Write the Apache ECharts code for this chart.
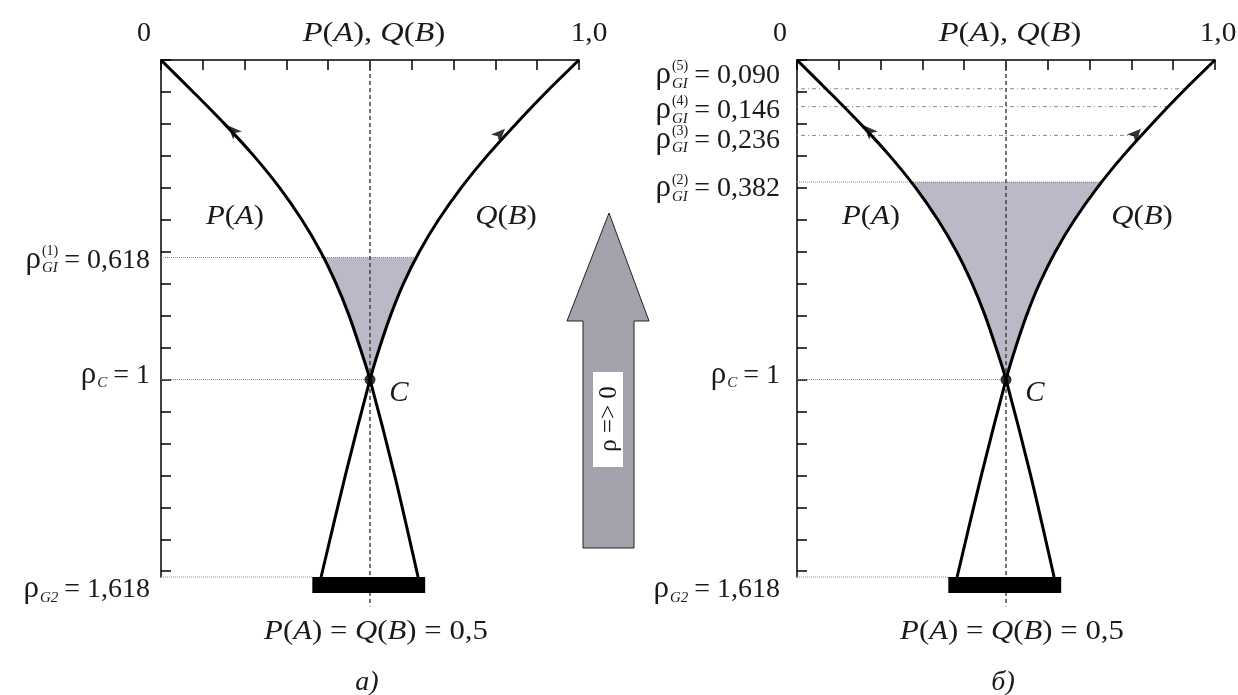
<!DOCTYPE html>
<html>
<head>
<meta charset="utf-8">
<script src="https://cdn.jsdelivr.net/npm/echarts@6/dist/echarts.min.js"></script>
<style>
	html, body { margin: 0; padding: 0; background: #fff; }
	#chart { width: 1238px; height: 695px; }
</style>
</head>
<body>
<div id="chart"></div>
<script>
	// curve readings, rho from top (0) to bottom (1.618)
	var rhoPts = [0, 0.1, 0.2, 0.3, 0.4, 0.5, 0.6, 0.7, 0.8, 0.9, 1.0, 1.3, 1.618]
	var pVals = [0, 0.077, 0.152, 0.222, 0.284, 0.337, 0.382, 0.419, 0.45, 0.476, 0.5, 0.559, 0.615]
	var qVals = [1, 0.922, 0.849, 0.78, 0.718, 0.664, 0.618, 0.58, 0.549, 0.523, 0.5, 0.441, 0.383]

	// upper edge of the shaded zone: [rho, P, Q]
	var shadeTopA = [0.618, 0.388, 0.611]
	var shadeTopB = [0.382, 0.273, 0.728]

	// horizontal guide lines (level, where the line stops on the P/Q axis)
	var levelsA = [0.618, 1, 1.618]
	var levelEndsA = [0.611, 0.5, 0.362]
	var levelsB = [0.09, 0.146, 0.236, 0.382, 1, 1.618]
	var levelEndsB = [0.93, 0.888, 0.823, 0.728, 0.5, 0.362]

	// marks
	var arrowP = [0.16, 0.205]
	var arrowQ = [0.823, 0.215]
	var crossPt = [0.5, 1]
	var barSpan = [0.362, 0.632]
	var barRho = 1.643
	var midLine = [0, 1.71]
	var rhoTicks = [0, 0.1, 0.2, 0.3, 0.4, 0.5, 0.6, 0.7, 0.8, 0.9, 1, 1.1, 1.2, 1.3, 1.4, 1.5, 1.6]

	// tick labels of the rho axis
	var labRhoA = [0.618, 1, 1.618]
	var labSupA = ['(1)', '', '']
	var labSubA = ['GI', 'C', 'G2']
	var labValA = ['0,618', '1', '1,618']
	var labRhoB = [0.09, 0.146, 0.236, 0.382, 1, 1.618]
	var labSupB = ['(5)', '(4)', '(3)', '(2)', '', '']
	var labSubB = ['GI', 'GI', 'GI', 'GI', 'C', 'G2']
	var labValB = ['0,090', '0,146', '0,236', '0,382', '1', '1,618']
	var topLabels = ['0', 'P(A), Q(B)', '1,0']
	var panelNames = ['а)', 'б)']

	var font = '"Liberation Serif", "Times New Roman", serif'
	var shadeColor = '#b9b9c7'

	function curveData(vals) {
		return rhoPts.map(function (r, i) { return [vals[i], r] })
	}

	function shadePoly(top) {
		var pts = [[top[1], top[0]]]
		for (var i = 0; i < rhoPts.length; i++) {
			if (rhoPts[i] > top[0] && rhoPts[i] <= 1) pts.push([pVals[i], rhoPts[i]])
		}
		for (var j = rhoPts.length - 1; j >= 0; j--) {
			if (rhoPts[j] > top[0] && rhoPts[j] < 1) pts.push([qVals[j], rhoPts[j]])
		}
		pts.push([top[2], top[0]])
		return pts
	}

	function panelSeries(gi, levels, ends, top) {
		var list = []
		var poly = shadePoly(top)
		list.push({
			type: 'custom', xAxisIndex: gi, yAxisIndex: gi, data: [[0.5, 0.8]], silent: true, z: 1,
			renderItem: function (params, api) {
				return {
					type: 'polygon',
					shape: { points: poly.map(function (p) { return api.coord(p) }) },
					style: { fill: shadeColor }
				}
			}
		})
		levels.forEach(function (lv, i) {
			list.push({
				type: 'line', xAxisIndex: gi, yAxisIndex: gi, silent: true, symbol: 'none', z: 2, clip: false,
				lineStyle: { color: '#888', width: 1, type: (gi == 1 && lv < 0.3) ? [1, 3, 4, 3] : 'dotted' },
				data: [[0, lv], [ends[i], lv]]
			})
		})
		list.push({
			type: 'line', xAxisIndex: gi, yAxisIndex: gi, silent: true, symbol: 'none', z: 3, clip: false,
			lineStyle: { color: '#444', width: 1.5, type: [4, 3] },
			data: [[0.5, midLine[0]], [0.5, midLine[1]]]
		})
		list.push({
			type: 'line', xAxisIndex: gi, yAxisIndex: gi, silent: true, symbol: 'none', z: 4, clip: false,
			lineStyle: { color: '#000', width: 16, cap: 'butt' },
			data: [[barSpan[0], barRho], [barSpan[1], barRho]]
		})
		;[pVals, qVals].forEach(function (vals) {
			list.push({
				type: 'line', xAxisIndex: gi, yAxisIndex: gi, silent: true, symbol: 'none', z: 5,
				smooth: 0.3, clip: false,
				lineStyle: { color: '#000', width: 3 },
				data: curveData(vals)
			})
		})
		list.push({
			type: 'scatter', xAxisIndex: gi, yAxisIndex: gi, silent: true, z: 6,
			symbol: 'arrow', symbolSize: [9, 14],
			itemStyle: { color: '#000' },
			data: [
				{ value: arrowP, symbolRotate: 44 },
				{ value: arrowQ, symbolRotate: -44 }
			]
		})
		list.push({
			type: 'scatter', xAxisIndex: gi, yAxisIndex: gi, silent: true, z: 6,
			symbol: 'circle', symbolSize: 11,
			itemStyle: { color: '#000' },
			data: [crossPt]
		})
		return list
	}

	function xAx(gi) {
		return {
			type: 'value', gridIndex: gi, position: 'top', min: 0, max: 1, interval: 0.1,
			axisLine: { onZero: false, lineStyle: { color: '#000', width: 1.5 } },
			axisTick: { inside: true, length: 10, lineStyle: { color: '#000', width: 1.5 } },
			axisLabel: { show: false },
			splitLine: { show: false }
		}
	}

	function yAx(gi) {
		return {
			type: 'value', gridIndex: gi, inverse: true, min: 0, max: 1.618, interval: 0.1,
			axisLine: { onZero: false, lineStyle: { color: '#000', width: 1.5 } },
			axisTick: { inside: true, length: 10, customValues: rhoTicks, lineStyle: { color: '#000', width: 1.5 } },
			axisLabel: { show: false },
			splitLine: { show: false }
		}
	}

	var chart = echarts.init(document.getElementById('chart'))
	chart.setOption({
		animation: false,
		backgroundColor: '#fff',
		grid: [
			{ left: 161, top: 60, width: 418, height: 517 },
			{ left: 797, top: 60, width: 418, height: 517 }
		],
		xAxis: [xAx(0), xAx(1)],
		yAxis: [yAx(0), yAx(1)],
		series: panelSeries(0, levelsA, levelEndsA, shadeTopA).concat(panelSeries(1, levelsB, levelEndsB, shadeTopB))
	})

	// text is placed from the axis scales
	var ctx = document.createElement('canvas').getContext('2d')
	function tw(s, size, italic) {
		ctx.font = (italic ? 'italic ' : '') + size + 'px ' + font
		return ctx.measureText(s).width
	}
	function txt(x, y, s, o) {
		o = o || {}
		var st = {
			text: s, fontFamily: font, fontSize: o.size || 27,
			fontStyle: o.italic ? 'italic' : 'normal',
			fill: '#1a1a1a', align: o.align || 'center', verticalAlign: 'middle'
		}
		if (o.rich) st.rich = o.rich
		return {
			type: 'text', x: x, y: y, rotation: o.rot || 0, scaleX: o.sx || 1, silent: true, z: 100,
			style: st
		}
	}
	var mixRich = {
		i: { fontFamily: font, fontSize: 28, fontStyle: 'italic', fill: '#1a1a1a' },
		n: { fontFamily: font, fontSize: 28, fill: '#1a1a1a' }
	}
	function rhoLabel(xr, yc, sup, sub, val) {
		var els = []
		var rest = '= ' + val
		els.push(txt(xr, yc, rest, { align: 'right', size: 28 }))
		var x = xr - tw(rest, 28) - 6
		var bw = Math.max(sup ? tw(sup, 14) : 0, tw(sub, 15, true))
		var bx = x - bw
		if (sup) els.push(txt(bx, yc - 9, sup, { align: 'left', size: 14 }))
		els.push(txt(bx, yc + 8, sub, { align: 'left', size: 15, italic: true }))
		els.push(txt(bx - 1, yc - 1, 'ρ', { align: 'right', size: 31 }))
		return els
	}
	function px(gi, v) {
		return chart.convertToPixel({ gridIndex: gi }, v)
	}

	var labDyA = [3, -4, 13]
	var labDyB = [-13, 4, 5, 7, -4, 13]
	var labDx = [-11, -17]
	var endDx = [10, 3]
	var g = []
	;[0, 1].forEach(function (gi) {
		var p0 = px(gi, [0, 0]), pm = px(gi, [0.5, 0]), p1 = px(gi, [1, 0])
		g.push(txt(p0[0] - 17, 34, topLabels[0], { size: 28 }))
		g.push(txt(pm[0] + 4, 34, '{i|P}{n|(}{i|A}{n|), }{i|Q}{n|(}{i|B}{n|)}', { rich: mixRich, sx: 1.16 }))
		g.push(txt(p1[0] + endDx[gi], 34, topLabels[2], { size: 28, sx: 1.05 }))
		var lp = px(gi, [0, 0.49])
		g.push(txt(lp[0] + 74, lp[1], '{i|P}{n|(}{i|A}{n|)}', { rich: mixRich, sx: 1.1 }))
		g.push(txt(lp[0] + 345, lp[1], '{i|Q}{n|(}{i|B}{n|)}', { rich: mixRich, sx: 1.1 }))
		var c = px(gi, crossPt)
		g.push(txt(c[0] + 29, c[1] + 14, 'C', { italic: true, size: 29 }))
		var b = px(gi, [0.5, barRho])
		g.push(txt(b[0] + 6, 632, '{i|P}{n|(}{i|A}{n|) = }{i|Q}{n|(}{i|B}{n|) = 0,5}', { rich: mixRich, sx: 1.1 }))
		g.push(txt(b[0] - 3, 683, panelNames[gi], { italic: true, size: 28 }))
		var rhos = gi == 0 ? labRhoA : labRhoB
		var sups = gi == 0 ? labSupA : labSupB
		var subs = gi == 0 ? labSubA : labSubB
		var vals = gi == 0 ? labValA : labValB
		var dys = gi == 0 ? labDyA : labDyB
		rhos.forEach(function (r, i) {
			var p = px(gi, [0, r])
			g = g.concat(rhoLabel(p[0] + labDx[gi], p[1] + dys[i], sups[i], subs[i], vals[i]))
		})
	})

	// big arrow between the panels
	g.push({
		type: 'polygon', silent: true, z: 90,
		shape: { points: [[609, 213], [649, 321], [634, 321], [634, 548], [583, 548], [583, 321], [567, 321]] },
		style: { fill: '#a2a2ac', stroke: '#222', lineWidth: 1 }
	})
	g.push({
		type: 'rect', silent: true, z: 91,
		shape: { x: 593, y: 372, width: 30, height: 95 },
		style: { fill: '#fff' }
	})
	g.push(txt(609, 419, 'ρ => 0', { rot: Math.PI / 2, size: 25 }))

	chart.setOption({ graphic: g })
</script>
</body>
</html>
